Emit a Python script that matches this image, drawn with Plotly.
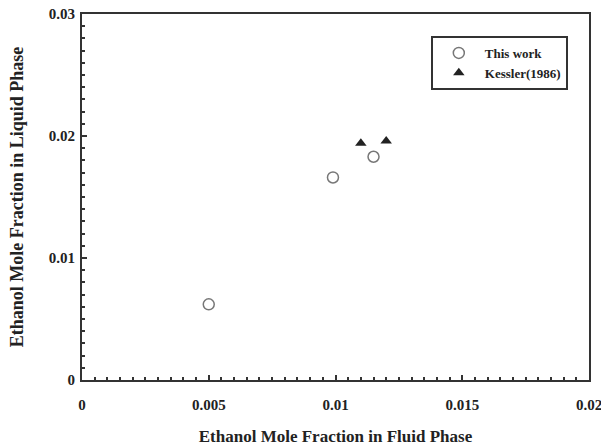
import plotly.graph_objects as go

this_work_x = [0.0050, 0.0099, 0.0115]
this_work_y = [0.0062, 0.0166, 0.0183]
kessler_x = [0.0110, 0.0120]
kessler_y = [0.0194, 0.0196]

x_ticks = [0, 0.005, 0.01, 0.015, 0.02]
x_tick_labels = ["0", "0.005", "0.01", "0.015", "0.02"]
y_ticks = [0, 0.01, 0.02, 0.03]
y_tick_labels = ["0", "0.01", "0.02", "0.03"]

font_family = "Liberation Serif"

fig = go.Figure()
fig.add_trace(go.Scatter(
    x=this_work_x, y=this_work_y, mode="markers", name="<b>This work</b>",
    marker=dict(symbol="circle-open", size=11, color="#777777", line=dict(width=1.5)),
))
fig.add_trace(go.Scatter(
    x=kessler_x, y=kessler_y, mode="markers", name="<b>Kessler(1986)</b>",
    marker=dict(symbol="triangle-up", size=10, color="#222222"),
))

axis_common = dict(
    showgrid=False, zeroline=False, showline=True, linecolor="#333333", linewidth=2,
    mirror=True, ticks="inside", ticklen=5, tickwidth=1.5, tickcolor="#333333",
    tickfont=dict(family=font_family, size=15, color="#222222"),
    automargin=False, ticklabeloverflow="allow",
)

fig.update_xaxes(
    range=[0, 0.02], tickvals=x_ticks, ticktext=["<b>%s</b>" % t for t in x_tick_labels],
    minor=dict(dtick=0.0005, ticks="inside", ticklen=3, tickcolor="#333333"),
    ticklabelstandoff=10,
    title=dict(text="<b>Ethanol Mole Fraction in Fluid Phase</b>",
               font=dict(family=font_family, size=17, color="#222222"), standoff=18),
    **axis_common,
)
fig.update_yaxes(
    range=[0, 0.03], tickvals=y_ticks, ticktext=["<b>%s</b>" % t for t in y_tick_labels],
    minor=dict(dtick=0.001, ticks="inside", ticklen=3, tickcolor="#333333"),
    ticklabelstandoff=2,
    title=dict(text="<b>Ethanol Mole Fraction in Liquid Phase</b>",
               font=dict(family=font_family, size=18, color="#222222"), standoff=20),
    **axis_common,
)

fig.update_layout(
    width=601, height=448,
    margin=dict(l=82, r=12, t=14, b=68),
    paper_bgcolor="white", plot_bgcolor="white",
    showlegend=True,
    legend=dict(
        x=0.688, y=0.94, xanchor="left", yanchor="top",
        bordercolor="#333333", borderwidth=2, bgcolor="white",
        font=dict(family=font_family, size=13, color="#222222"),
        tracegroupgap=0, itemwidth=42,
    ),
)

fig.write_html("out.html", config={"displayModeBar": False},
               post_script="document.body.style.margin='0px';")
